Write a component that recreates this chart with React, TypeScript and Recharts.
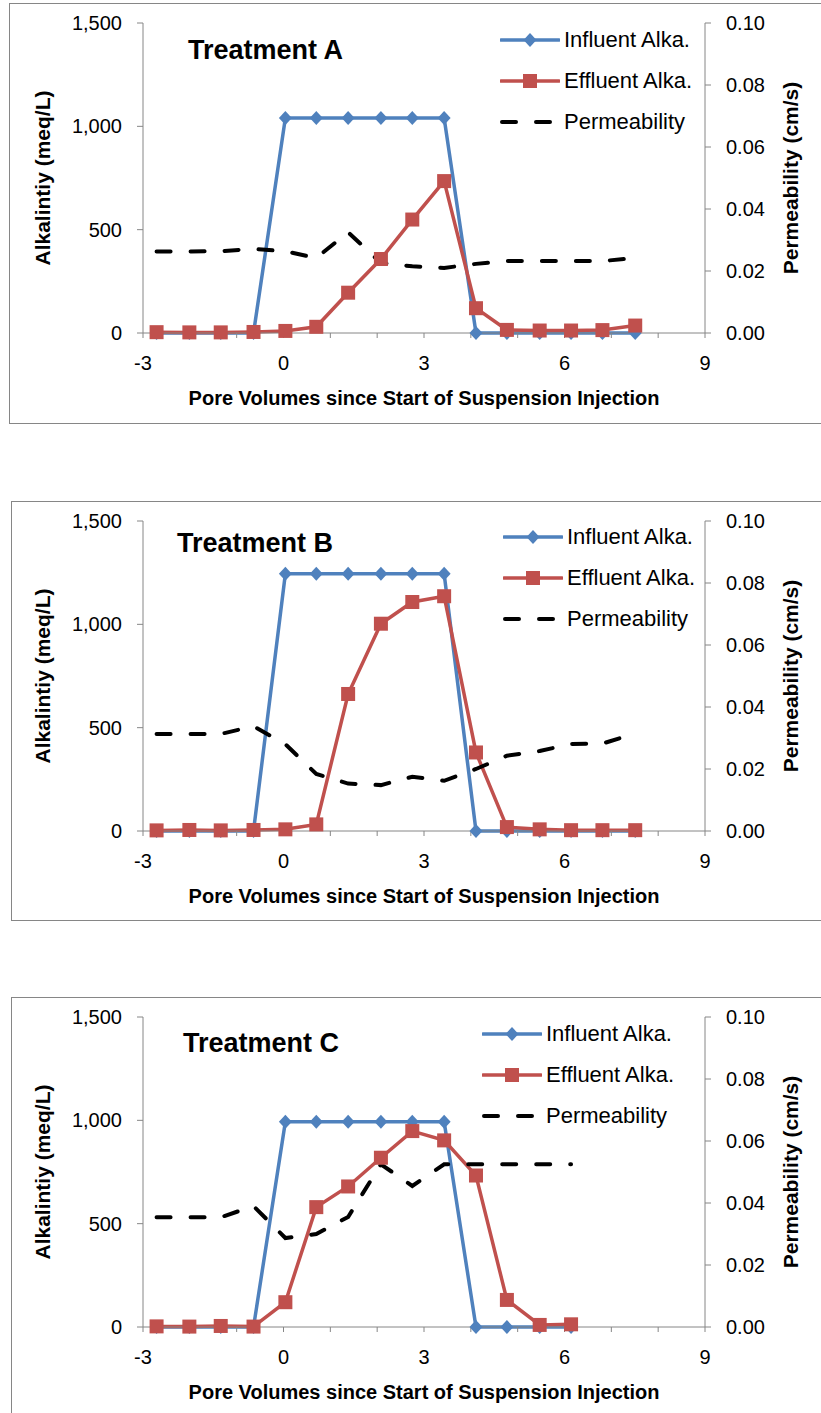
import { LineChart, Line, XAxis, YAxis, Legend, Label } from 'recharts'

// pore volumes since start of suspension injection (same sampling in every run)
const poreVolumes = [-2.71, -2.01, -1.34, -0.64, 0.04, 0.7, 1.38, 2.08, 2.75, 3.43, 4.11, 4.77, 5.47, 6.14, 6.81, 7.51]

const influentA = [0, 0, 0, 0, 1040, 1040, 1040, 1040, 1040, 1040, 0, 0, 0, 0, 0, 0]
const effluentA = [4, 3, 3, 5, 10, 30, 195, 358, 549, 735, 120, 15, 12, 12, 14, 36]
const permeabilityA = [0.0263, 0.0263, 0.0264, 0.0271, 0.0264, 0.0242, 0.0325, 0.0226, 0.0215, 0.021, 0.0223, 0.0232, 0.0232, 0.0232, 0.0232, 0.0242]

const influentB = [0, 0, 0, 0, 1245, 1245, 1245, 1245, 1245, 1245, 0, 0, 0, 0, 0, 0]
const effluentB = [3, 5, 3, 5, 8, 32, 663, 1003, 1108, 1136, 380, 19, 8, 4, 4, 4]
const permeabilityB = [0.0313, 0.0313, 0.0313, 0.0338, 0.028, 0.0184, 0.0153, 0.0148, 0.0175, 0.0162, 0.02, 0.0243, 0.0258, 0.0281, 0.0282, 0.0315]

const influentC = [0, 0, 0, 0, 993, 993, 993, 993, 993, 993, 0, 0, 0, 0]
const effluentC = [3, 2, 5, 2, 120, 580, 680, 819, 948, 903, 733, 131, 10, 13]
const permeabilityC = [0.0354, 0.0354, 0.0354, 0.039, 0.0287, 0.03, 0.0355, 0.0525, 0.0455, 0.0525, 0.0525, 0.0525, 0.0525, 0.0525]

const xTicks = [-3, -2, -1, 0, 1, 2, 3, 4, 5, 6, 7, 8, 9]
const alkTicks = [0, 500, 1000, 1500]
const permTicks = [0, 0.02, 0.04, 0.06, 0.08, 0.1]
const legendOrder = ['influent', 'effluent', 'perm']

const BLUE = '#4F81BD'
const RED = '#C0504D'
const AXIS = '#868686'
const FONT = '"Liberation Sans", Arial, sans-serif'
const DASH = '14 20'

function buildRows(influent: number[], effluent: number[], perm: number[]) {
    return influent.map((v, i) => ({
        pv: poreVolumes[i],
        influent: v,
        effluent: effluent[i],
        perm: perm[i],
    }))
}

function Diamond({ cx, cy }: { cx: number; cy: number }) {
    return <path d={`M${cx},${cy - 7}L${cx + 6.5},${cy}L${cx},${cy + 7}L${cx - 6.5},${cy}Z`} fill={BLUE} />
}

function Square({ cx, cy }: { cx: number; cy: number }) {
    return <rect x={cx - 7} y={cy - 7} width={14} height={14} fill={RED} />
}

function LegendBox({ payload }: any) {
    const items = [...(payload || [])].sort(
        (a: any, b: any) => legendOrder.indexOf(a.dataKey) - legendOrder.indexOf(b.dataKey),
    )
    return (
        <div style={{ fontFamily: FONT, fontSize: 22, color: '#000' }}>
            {items.map((entry: any) => (
                <div key={entry.value} style={{ display: 'flex', alignItems: 'center', height: 41 }}>
                    <svg width={60} height={20} style={{ marginRight: 4 }}>
                        {entry.dataKey === 'perm' ? (
                            <line x1={2} y1={10} x2={58} y2={10} stroke="#000" strokeWidth={4}
                                strokeDasharray="14 20" strokeLinecap="round" />
                        ) : (
                            <line x1={1} y1={10} x2={59} y2={10} stroke={entry.color} strokeWidth={3.5}
                                strokeLinecap="round" />
                        )}
                        {entry.dataKey === 'influent' && <Diamond cx={30} cy={10} />}
                        {entry.dataKey === 'effluent' && <Square cx={30} cy={10} />}
                    </svg>
                    <span>{entry.value}</span>
                </div>
            ))}
        </div>
    )
}

interface PanelProps {
    top: number
    boxLeft: number
    boxTop: number
    boxHeight: number
    title: string
    titleX: number
    titleY: number
    legendX: number
    legendY: number
    influent: number[]
    effluent: number[]
    perm: number[]
}

function Panel(p: PanelProps) {
    const data = buildRows(p.influent, p.effluent, p.perm)
    return (
        <>
            <div style={{
                position: 'absolute', left: p.boxLeft, top: p.boxTop, width: 900, height: p.boxHeight,
                border: `1px solid ${AXIS}`, boxSizing: 'border-box',
            }} />
            <div style={{ position: 'absolute', left: 10, top: p.top, width: 811, height: 420 }}>
                <LineChart width={811} height={420} data={data} margin={{ top: 19, right: 0, bottom: 0, left: 0 }}>
                    <XAxis
                        dataKey="pv"
                        type="number"
                        domain={[-3, 9]}
                        ticks={xTicks}
                        interval={0}
                        height={91}
                        tickFormatter={(v: number) => (v % 3 === 0 ? String(v) : '')}
                        stroke={AXIS}
                        tickSize={5}
                        tickMargin={18}
                        tick={{ fill: '#000', fontSize: 20, fontFamily: FONT }}
                    >
                        <Label
                            content={() => (
                                <text x={414} y={401} textAnchor="middle" fontFamily={FONT} fontWeight="bold"
                                    fontSize={20} fill="#000">
                                    Pore Volumes since Start of Suspension Injection
                                </text>
                            )}
                        />
                    </XAxis>
                    <YAxis
                        yAxisId="alk"
                        orientation="left"
                        width={133}
                        domain={[0, 1500]}
                        ticks={alkTicks}
                        interval={0}
                        tickFormatter={(v: number) => v.toLocaleString('en-US')}
                        stroke={AXIS}
                        tickSize={6}
                        tickMargin={15}
                        tick={{ fill: '#000', fontSize: 20, fontFamily: FONT }}
                    >
                        <Label
                            content={() => (
                                <text x={32} y={174} transform="rotate(-90, 32, 174)" textAnchor="middle"
                                    dominantBaseline="central" fontFamily={FONT} fontWeight="bold" fontSize={21} fill="#000">
                                    Alkalintiy (meq/L)
                                </text>
                            )}
                        />
                    </YAxis>
                    <YAxis
                        yAxisId="perm"
                        orientation="right"
                        width={116}
                        domain={[0, 0.1]}
                        ticks={permTicks}
                        interval={0}
                        tickFormatter={(v: number) => v.toFixed(2)}
                        stroke={AXIS}
                        tickSize={6}
                        tickMargin={15}
                        tick={{ fill: '#000', fontSize: 20, fontFamily: FONT }}
                    >
                        <Label
                            content={() => (
                                <text x={780} y={174} transform="rotate(-90, 780, 174)" textAnchor="middle"
                                    dominantBaseline="central" fontFamily={FONT} fontWeight="bold" fontSize={21} fill="#000">
                                    Permeability (cm/s)
                                </text>
                            )}
                        />
                    </YAxis>
                    <Legend
                        layout="vertical"
                        align="center"
                        verticalAlign="middle"
                        content={<LegendBox />}
                        wrapperStyle={{ left: p.legendX, top: p.legendY, width: 220, height: 123 }}
                    />
                    <Line
                        yAxisId="alk"
                        dataKey="influent"
                        name="Influent Alka."
                        stroke={BLUE}
                        strokeWidth={3.5}
                        dot={(d: any) => <Diamond key={`i-${d.index}`} cx={d.cx} cy={d.cy} />}
                        isAnimationActive={false}
                    />
                    <Line
                        yAxisId="alk"
                        dataKey="effluent"
                        name="Effluent Alka."
                        stroke={RED}
                        strokeWidth={3.5}
                        dot={(d: any) => <Square key={`e-${d.index}`} cx={d.cx} cy={d.cy} />}
                        isAnimationActive={false}
                    />
                    <Line
                        yAxisId="perm"
                        dataKey="perm"
                        name="Permeability"
                        stroke="#000"
                        strokeWidth={4}
                        strokeDasharray={DASH}
                        strokeLinecap="round"
                        dot={false}
                        isAnimationActive={false}
                    />
                </LineChart>
            </div>
            <div style={{
                position: 'absolute', left: p.titleX, top: p.titleY - 16, fontFamily: FONT,
                fontWeight: 'bold', fontSize: 27, lineHeight: '32px', color: '#000', whiteSpace: 'nowrap',
            }}>
                {p.title}
            </div>
        </>
    )
}

export default function App() {
    return (
        <div style={{ position: 'absolute', left: 0, top: 0, width: 821, height: 1413, overflow: 'hidden', background: '#fff' }}>
            <Panel top={4} boxLeft={9} boxTop={3} boxHeight={421} title="Treatment A" titleX={188} titleY={50}
                legendX={490} legendY={15} influent={influentA} effluent={effluentA} perm={permeabilityA} />
            <Panel top={502} boxLeft={11} boxTop={501} boxHeight={420} title="Treatment B" titleX={177} titleY={543}
                legendX={493} legendY={14} influent={influentB} effluent={effluentB} perm={permeabilityB} />
            <Panel top={998} boxLeft={11} boxTop={997} boxHeight={440} title="Treatment C" titleX={183} titleY={1043}
                legendX={472} legendY={15} influent={influentC} effluent={effluentC} perm={permeabilityC} />
        </div>
    )
}
